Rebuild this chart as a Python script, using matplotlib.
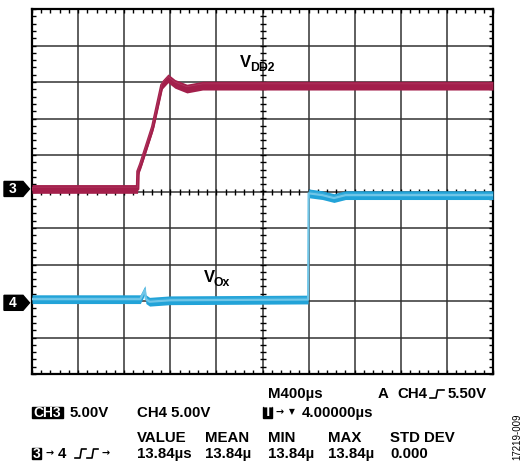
import numpy as np
import matplotlib
matplotlib.use("Agg")
import matplotlib.pyplot as plt
from matplotlib.patches import Polygon, Rectangle
from matplotlib.lines import Line2D
import matplotlib.transforms as mtransforms

W, H = 527, 463

# ---- data (screen divisions: x 0..10 at 400us/div, y 0..10 at 5V/div) ----
ch3_t = [0.0, 2.29, 2.30, 2.36, 2.62, 2.82, 2.95, 3.10, 3.36, 3.70, 10.0]
ch3_v = [5.07, 5.07, 5.55, 5.75, 6.77, 7.92, 8.10, 7.95, 7.82, 7.90, 7.90]
ch4_t = [0.0, 2.35, 2.45, 2.47, 2.55, 3.00, 5.99, 6.00, 6.30, 6.55, 6.80, 10.0]
ch4_v = [2.05, 2.05, 2.30, 2.05, 1.98, 2.02, 2.04, 4.95, 4.90, 4.82, 4.90, 4.90]
ch3_ref = 5.07
ch4_ref = 1.95

row1 = [("M400µs", 268), ("A", 378), ("CH4", 397), ("5.50V", 448)]
row2 = [("5.00V", 70), ("CH4 5.00V", 137), ("4.00000µs", 302)]
row3 = [("VALUE", 137), ("MEAN", 205), ("MIN", 268), ("MAX", 328), ("STD DEV", 390)]
row4 = [("13.84µs", 137), ("13.84µ", 205), ("13.84µ", 268), ("13.84µ", 328), ("0.000", 390)]

RED, RED_L = "#A31F4B", "#C86A8C"
BLUE, BLUE_L = "#22A3D8", "#70C6E8"
FAM = ["Liberation Sans", "DejaVu Sans"]
FS = 10.8

fig = plt.figure(figsize=(W / 100, H / 100), dpi=100)
ax = fig.add_axes([32 / W, 1 - 374 / H, 461 / W, 365 / H])
ax.set_xlim(0, 10)
ax.set_ylim(0, 10)

# grid
for k in range(1, 10):
    ax.axvline(k, color="#333333", lw=1.1, zorder=1)
    ax.axhline(k, color="#333333", lw=1.1, zorder=1)
for s in ax.spines.values():
    s.set_linewidth(1.6)
    s.set_color("black")
ax.set_xticks(np.arange(0, 10.01, 0.2))
ax.set_yticks(np.arange(0, 10.01, 0.2))
ax.tick_params(which="both", direction="in", length=3.2, width=1.0,
               top=True, right=True, labelbottom=False, labelleft=False)
sub = np.arange(0.2, 10, 0.2)
ax.plot(sub, np.full_like(sub, 5.0), ls="none", marker="|", ms=5, mew=1.0, color="black", zorder=2)
ax.plot(np.full_like(sub, 5.0), sub, ls="none", marker="_", ms=5, mew=1.0, color="black", zorder=2)

# traces
h = 0.12
t3, v3 = np.array(ch3_t), np.array(ch3_v)
t4, v4 = np.array(ch4_t), np.array(ch4_v)
ax.fill_between(t3, v3 - h, v3 + h, color=RED, lw=0, zorder=3)
ax.plot(t3, v3, color=RED, lw=2.6, zorder=3)
ax.plot(t3, v3 + 0.05, color=RED_L, lw=0.5, alpha=0.35, zorder=4)
ax.fill_between(t4, v4 - h, v4 + h, color=BLUE, lw=0, zorder=3)
ax.plot(t4, v4, color=BLUE_L, lw=1.6, zorder=3)
ax.plot(t4, v4 + 0.05, color=BLUE_L, lw=0.5, alpha=0.35, zorder=4)

# channel markers
tr = mtransforms.blended_transform_factory(fig.transFigure, ax.transData)
hh = 7.5 / 36.5
for ref, lab in [(ch3_ref, "3"), (ch4_ref, "4")]:
    pts = [(4 / W, ref - hh), (23 / W, ref - hh), (29.5 / W, ref), (23 / W, ref + hh), (4 / W, ref + hh)]
    fig.add_artist(Polygon(pts, closed=True, transform=tr, color="black", clip_on=False))
    fig.text(13 / W, ref, lab, transform=tr, color="white", fontsize=10, fontweight="bold",
             family=FAM, ha="center", va="center")


def txt(x, y, s, size=FS, color="black", weight="bold", **kw):
    fig.text(x / W, 1 - y / H, s, fontsize=size, color=color, fontweight=weight,
             family=FAM, va="baseline", ha="left", **kw)


def arrow(x, y):
    fig.text(x / W, 1 - y / H, "→", fontsize=7, color="black", fontweight="bold",
             family=["DejaVu Sans"], va="center", ha="left")


def box(x0, x1, y0, y1):
    fig.add_artist(Rectangle((x0 / W, 1 - y1 / H), (x1 - x0) / W, (y1 - y0) / H,
                             transform=fig.transFigure, color="black"))


def poly(xs, ys, lw=1.2):
    fig.add_artist(Line2D([x / W for x in xs], [1 - y / H for y in ys],
                          transform=fig.transFigure, color="black", lw=lw))


# labels on traces
txt(240, 67, "V", size=12)
txt(250.5, 70.5, "DD2", size=8.8)
txt(204, 282, "V", size=12)
txt(214, 286, "Ox", size=8.8)

# status rows
for s, x in row1:
    txt(x, 398, s)
poly([430, 436, 437.5, 444], [398, 398, 390, 390])
box(32, 63.5, 407, 418)
txt(33, 417, "CH3", color="white", size=10)
for s, x in row2:
    txt(x, 417, s)
box(263, 272, 407, 417.5)
txt(263.6, 416.5, "T", color="white", size=10)
arrow(275, 412)
fig.text(289 / W, 1 - 412 / H, "▼", fontsize=5.5, family=["DejaVu Sans"], va="center", ha="left")
for s, x in row3:
    txt(x, 442, s)
box(32, 41, 448, 458.5)
txt(33, 458, "3", color="white", size=10)
arrow(46, 453)
txt(58, 458, "4")
poly([75, 80, 81.5, 86], [458, 458, 449, 449])
poly([87, 92, 93.5, 98], [458, 458, 449, 449])
arrow(102, 453)
for s, x in row4:
    txt(x, 458, s)

fig.text(517 / W, 1 - 437 / H, "17219-009", rotation=90, fontsize=7, family=FAM,
         ha="center", va="center")

fig.savefig("out.png", dpi=100)
